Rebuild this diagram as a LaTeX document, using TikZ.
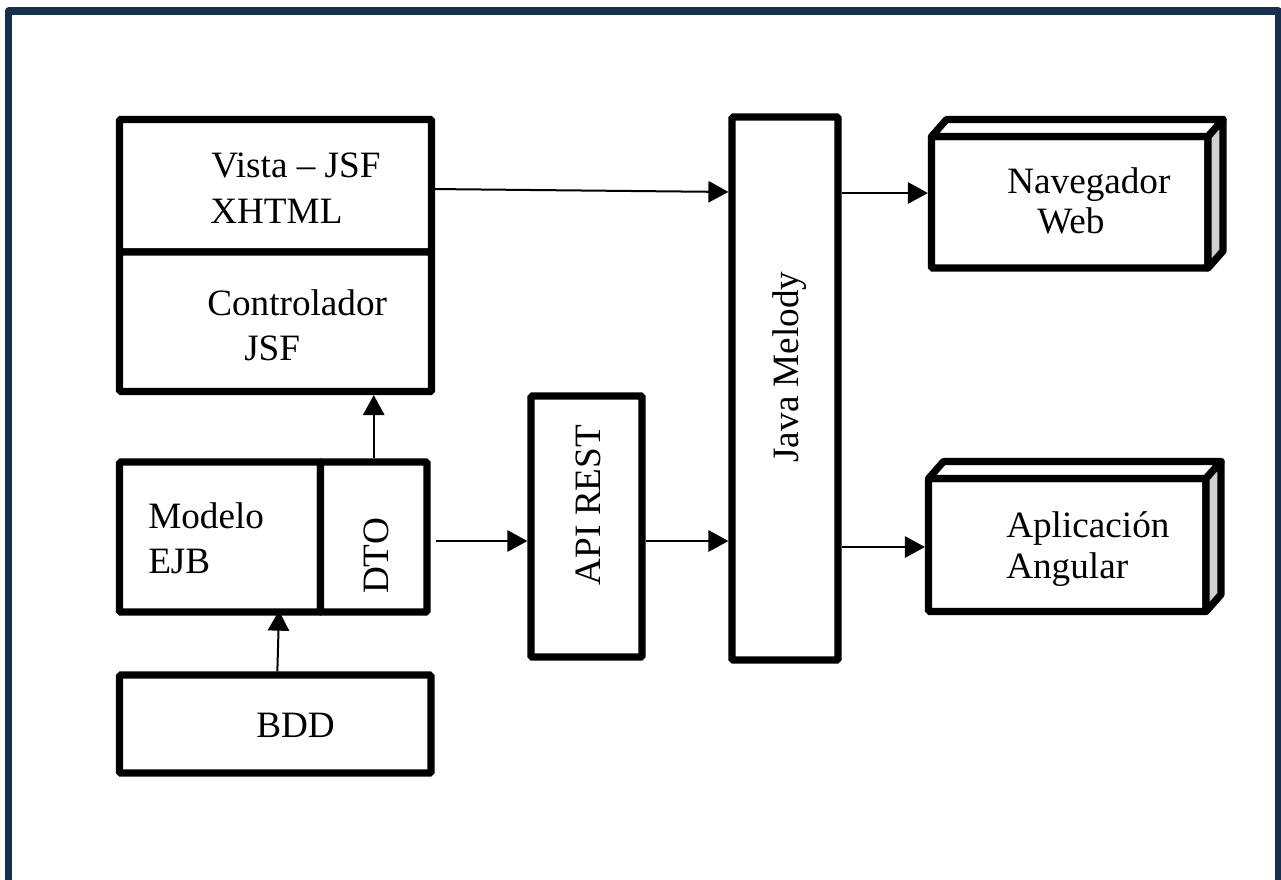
\documentclass[tikz,border=0pt]{standalone}
\usepackage{fontspec}
\setmainfont{Liberation Serif}
\usetikzlibrary{arrows.meta,calc}
\definecolor{navy}{HTML}{17304D}
\definecolor{sidegray}{HTML}{D0D0D0}
\tikzset{
  box/.style={draw=black, line width=5.4pt, fill=white, outer sep=0pt, inner sep=0pt, rounded corners=1pt},
  lbl/.style={font=\fontsize{27.9}{33}\selectfont, inner sep=0pt, anchor=base west},
  rlbl/.style={font=\fontsize{27.9}{33}\selectfont, inner sep=0pt, anchor=base, rotate=90},
  arr/.style={line width=1.5pt, -{Triangle[length=15pt,width=16pt]}, shorten <=2.7pt, shorten >=2.7pt},
  frame/.style={draw=navy, line width=5.3pt, line join=round},
  side/.style={draw=black, line width=5.4pt, line join=round}
}
\begin{document}
\begin{tikzpicture}[x=0.75pt,y=-0.75pt]
\useasboundingbox (0,0) rectangle (1281,879);
\fill[white] (0,0) rectangle (1281,879);
% outer frame (open at bottom)
\draw[frame] (8.5,900) -- (8.5,11) -- (1278.5,11) -- (1278.5,900);

% boxes
\node[box, minimum width=234pt, minimum height=99.4pt] (vista) at (275.5,185.75) {};
\node[box, minimum width=234pt, minimum height=104.6pt] (ctrl) at (275.5,321.75) {};
\node[box, minimum width=150.75pt, minimum height=112.5pt] (modelo) at (220,537) {};
\node[box, minimum width=79.9pt, minimum height=112.5pt] (dto) at (373.75,537) {};
\node[box, minimum width=233.6pt, minimum height=73.5pt] (bdd) at (275.25,724) {};
\node[box, minimum width=83.25pt, minimum height=195.75pt] (api) at (586.5,526.5) {};
\node[box, minimum width=79.5pt, minimum height=407.25pt] (java) at (785,388.5) {};

% 3D boxes
\node[box, minimum width=207.4pt, minimum height=98.6pt] (nav) at (1069.75,202.25) {};
\draw[side, fill=white] (nav.north west) -- ++(15,-17) -- ($(nav.north east)+(15,-17)$) -- (nav.north east) -- cycle;
\draw[side, fill=sidegray] (nav.north east) -- ++(15,-17) -- ($(nav.south east)+(15,-17)$) -- (nav.south east) -- cycle;

\node[box, minimum width=208.1pt, minimum height=99.75pt] (app) at (1067.25,545) {};
\draw[side, fill=white] (app.north west) -- ++(15,-17) -- ($(app.north east)+(15,-17)$) -- (app.north east) -- cycle;
\draw[side, fill=sidegray] (app.north east) -- ++(15,-17) -- ($(app.south east)+(15,-17)$) -- (app.south east) -- cycle;

% labels
\node[lbl] (tvista) at (211,177) {Vista – JSF};
\node[lbl] (txhtml) at (210,223) {XHTML};
\node[lbl] (tctrl) at (207,315) {Controlador};
\node[lbl] (tjsf) at (244,360) {JSF};
\node[lbl] (tmodelo) at (148,528) {Modelo};
\node[lbl] (tejb) at (148,573) {EJB};
\node[lbl] (tbdd) at (256,737) {BDD};
\node[lbl] (tnav) at (1007,193) {Navegador};
\node[lbl] (tweb) at (1037,233) {Web};
\node[lbl] (tapp) at (1006,537) {Aplicación};
\node[lbl] (tang) at (1006,578) {Angular};
\node[rlbl] (tdto) at (388,556) {DTO};
\node[rlbl] (tapi) at (600,505) {API REST};
\node[rlbl] (tjava) at (798,367) {Java Melody};

% level coordinates
\coordinate (l1) at (0,193);
\coordinate (l2) at (0,547);
\coordinate (l3) at (0,541);

% connectors
\draw[arr] ($(vista.east)+(0,3.25)$) -- ($(java.west)+(0,-196.5)$);
\draw[arr] (java.east |- l1) -- (nav.west |- l1);
\draw[arr] (java.east |- l2) -- (app.west |- l2);
\draw[arr, shorten <=7pt] (dto.east |- l3) -- (api.west |- l3);
\draw[arr] (api.east |- l3) -- (java.west |- l3);
\draw[arr] (dto.north) -- (dto.north |- ctrl.south);
\draw[arr, shorten >=-1pt] ($(bdd.north)+(2,0)$) -- ($(modelo.south)+(59,0)$);
\end{tikzpicture}
\end{document}
